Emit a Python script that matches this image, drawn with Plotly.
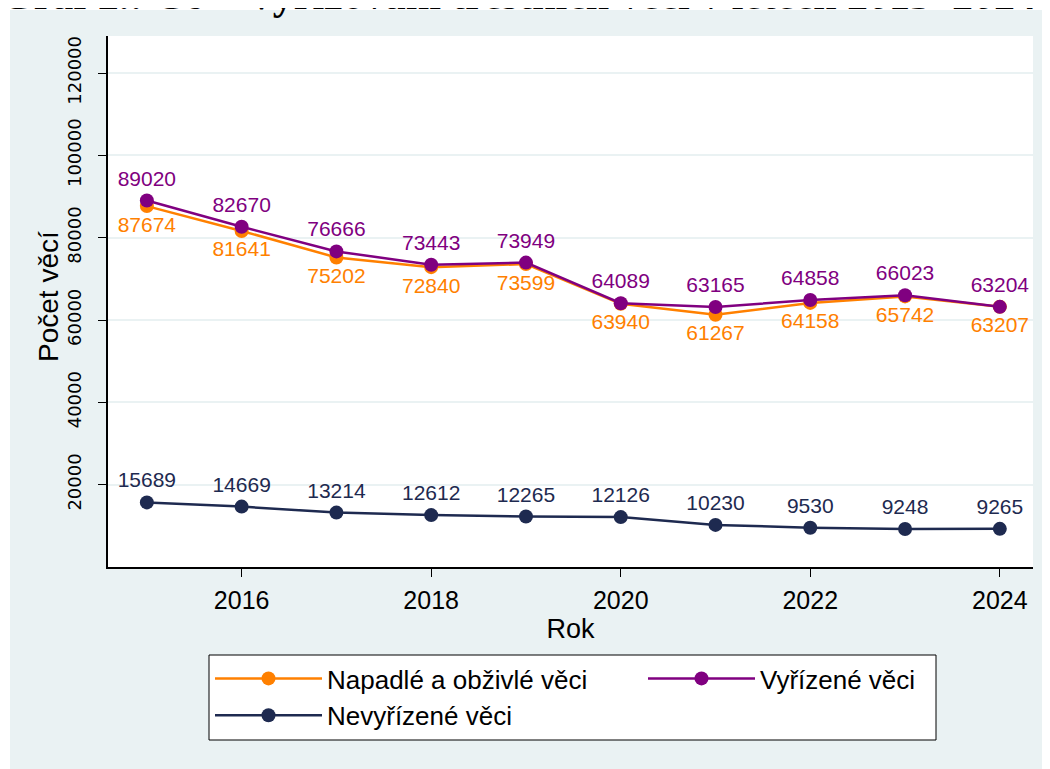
import plotly.graph_objects as go

years = [2015, 2016, 2017, 2018, 2019, 2020, 2021, 2022, 2023, 2024]
napadle = [87674, 81641, 75202, 72840, 73599, 63940, 61267, 64158, 65742, 63207]
vyrizene = [89020, 82670, 76666, 73443, 73949, 64089, 63165, 64858, 66023, 63204]
nevyrizene = [15689, 14669, 13214, 12612, 12265, 12126, 10230, 9530, 9248, 9265]

y_ticks = [20000, 40000, 60000, 80000, 100000, 120000]
x_ticks = [2016, 2018, 2020, 2022, 2024]

ORANGE = 'rgb(255,128,0)'
PURPLE = 'rgb(128,0,128)'
NAVY = 'rgb(30,42,80)'
PANEL = 'rgb(234,242,243)'
FONT = 'Liberation Sans'

# plot area in figure pixels (the page body adds an 8px offset)
L, R, T, B = 100, 1025, 28, 559
PW, PH = R - L, B - T


def px(x):
    return (x - L) / PW


def py(y):
    return (B - y) / PH


fig = go.Figure()

series = [
    ('Napadlé a obživlé věci', napadle, ORANGE, 'bottom center'),
    ('Vyřízené věci', vyrizene, PURPLE, 'top center'),
    ('Nevyřízené věci', nevyrizene, NAVY, 'top center'),
]
for name, vals, color, pos in series:
    fig.add_trace(go.Scatter(
        x=years, y=vals,
        mode='lines+markers+text',
        name=name,
        text=[str(v) for v in vals],
        textposition=pos,
        textfont=dict(color=color, size=21, family=FONT),
        line=dict(color=color, width=2.5),
        marker=dict(color=color, size=14),
        cliponaxis=False,
    ))

fig.update_layout(
    width=1050,
    height=769,
    margin=dict(l=L, r=1050 - R, t=T, b=769 - B, autoexpand=False),
    paper_bgcolor=PANEL,
    plot_bgcolor='white',
    font=dict(family=FONT, color='black'),
    showlegend=True,
    legend=dict(
        orientation='h',
        x=px(202), xanchor='left',
        y=py(647), yanchor='top',
        bgcolor='rgba(0,0,0,0)',
        borderwidth=0,
        font=dict(size=26, family=FONT),
        entrywidth=311,
        itemwidth=107,
        tracegroupgap=0,
    ),
    shapes=[
        # white page strips around the grey panel
        dict(type='rect', xref='paper', yref='paper',
             x0=-0.2, x1=1.1, y0=py(2), y1=1.2,
             fillcolor='white', line=dict(width=0), layer='above'),
        dict(type='rect', xref='paper', yref='paper',
             x0=-0.2, x1=px(2), y0=-0.5, y1=1.2,
             fillcolor='white', line=dict(width=0), layer='above'),
        # legend box
        dict(type='rect', xref='paper', yref='paper',
             x0=px(201), x1=px(928), y0=py(732), y1=py(647),
             fillcolor='white', line=dict(color='black', width=1), layer='above'),
    ],
    annotations=[
        dict(
            text='<b>Graf 2.: C6 – Vyřizování trestních věcí v letech 2015–2024</b>',
            xref='paper', yref='paper',
            x=px(-9), y=py(12),
            xanchor='left', yanchor='bottom',
            showarrow=False,
            font=dict(family='Liberation Serif', size=42, color='black'),
        ),
        dict(
            text='Počet věcí',
            xref='paper', yref='paper',
            x=px(40), y=py(289),
            xanchor='center', yanchor='middle',
            textangle=-90,
            showarrow=False,
            font=dict(size=28, color='black'),
        ),
    ],
)

fig.update_xaxes(
    range=[2014.59, 2024.35],
    tickvals=x_ticks,
    ticks='outside',
    ticklen=8,
    tickcolor='black',
    showline=True,
    linecolor='black',
    linewidth=1.5,
    showgrid=False,
    zeroline=False,
    automargin=False,
    tickfont=dict(size=25),
    ticklabelstandoff=2,
    title=dict(text='Rok', font=dict(size=27), standoff=0),
)
fig.update_yaxes(
    range=[0, 129000],
    tickvals=y_ticks,
    tickformat='d',
    tickangle=-90,
    ticks='outside',
    ticklen=8,
    tickcolor='black',
    showline=True,
    linecolor='black',
    linewidth=1.5,
    gridcolor=PANEL,
    gridwidth=2,
    zeroline=False,
    automargin=False,
    tickfont=dict(size=18, family='DejaVu Sans'),
    ticklabelstandoff=10,
)

fig.write_html('out.html')
